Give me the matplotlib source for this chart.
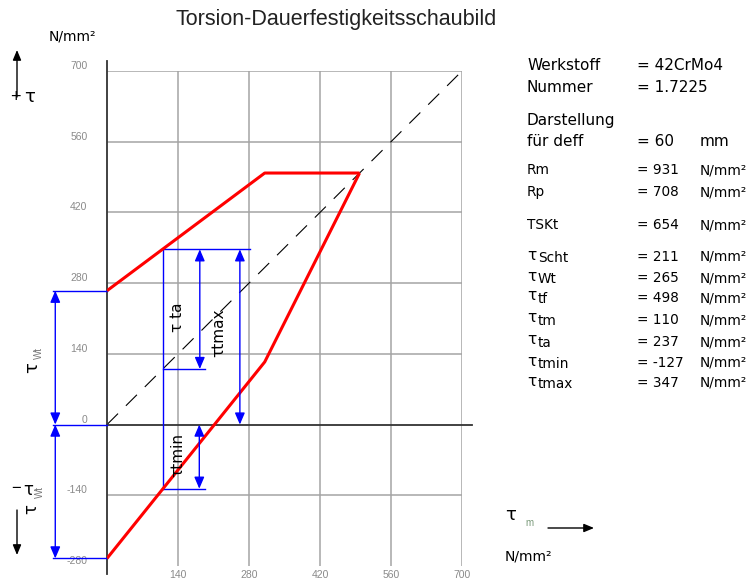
import matplotlib
matplotlib.use('Agg')
import matplotlib.pyplot as plt
from matplotlib.transforms import ScaledTranslation

plt.rcParams['font.family'] = ['Liberation Sans', 'DejaVu Sans']

# ---------------- data ----------------
x_ticks = [140, 280, 420, 560, 700]
y_ticks = [-280, -140, 0, 140, 280, 420, 560, 700]
grid_y = [-140, 140, 280, 420, 560, 700]

upper_x = [0, 311, 498]
upper_y = [265, 498, 498]
lower_x = [0, 311, 498]
lower_y = [-265, 124, 498]

tau_wt = 265
tau_tm = 110
tau_ta = 237
tau_tmin = -127
tau_tmax = 347

info_labels = ["Werkstoff", "Nummer"]
info_values = ["= 42CrMo4", "= 1.7225"]
deff_value = "= 60"
mat_labels = ["Rm", "Rp", "TSKt"]
mat_values = ["= 931", "= 708", "= 654"]
tau_subs = ["Scht", "Wt", "tf", "tm", "ta", "tmin", "tmax"]
tau_values = ["= 211", "= 265", "= 498", "= 110", "= 237", "= -127", "= 347"]
unit = "N/mm²"

# ---------------- figure ----------------
W, H = 754, 580
fig = plt.figure(figsize=(W / 100, H / 100), dpi=100)


def P(x, y):
    return x / W, 1 - y / H


ax = fig.add_axes([107 / W, (H - 566) / H, 355 / W, 495 / H])
ax.set_xlim(0, 700)
ax.set_ylim(-280, 700)
for s in ax.spines.values():
    s.set_visible(False)

grey = '#a4a4a4'
ax.vlines(x_ticks, -280, 700, colors=grey, lw=1.1, zorder=1)
ax.hlines(grid_y, 0, 700, colors=grey, lw=1.1, zorder=1)

# axes lines
ax.plot([0, 0], [-295, 720], color='#333333', lw=1.3, clip_on=False, zorder=3)
ax.plot([0, 720], [0, 0], color='#333333', lw=1.3, clip_on=False, zorder=3)

# diagonal
ax.plot([0, 700], [0, 700], color='black', lw=0.8, dashes=(14, 10), zorder=2)

# red curves
ax.plot(upper_x, upper_y, color='#ff0000', lw=2.2, zorder=5, solid_capstyle='butt')
ax.plot(lower_x, lower_y, color='#ff0000', lw=2.2, zorder=5, solid_capstyle='butt')

blue = '#0000ff'
# construction lines
ax.plot([tau_tm, tau_tm], [tau_tmin, tau_tmax], color=blue, lw=1.0, zorder=4)
ax.plot([tau_tm, 282], [tau_tmax, tau_tmax], color=blue, lw=1.0, zorder=4)
ax.plot([tau_tm, 193], [tau_tm, tau_tm], color=blue, lw=1.0, zorder=4)
ax.plot([tau_tm, 193], [tau_tmin, tau_tmin], color=blue, lw=1.0, zorder=4)
for yy in (tau_wt, 0, -tau_wt):
    ax.plot([-107, 0], [yy, yy], color=blue, lw=1.0, clip_on=False, zorder=4)

astyle = '<|-|>,head_length=0.7,head_width=0.3'


def darrow(x, y0, y1):
    ax.annotate('', xy=(x, y1), xytext=(x, y0),
                arrowprops=dict(arrowstyle=astyle, color=blue, lw=1.0,
                                mutation_scale=10, shrinkA=0, shrinkB=0),
                annotation_clip=False, zorder=6)


darrow(183, tau_tm, tau_tmax)
darrow(262, 0, tau_tmax)
darrow(182, 0, tau_tmin)
darrow(-102, 0, tau_wt)
darrow(-102, 0, -tau_wt)

# ticks
ax.set_xticks(x_ticks)
ax.set_yticks(y_ticks)
ax.set_xticklabels([str(v) for v in x_ticks])
ax.set_yticklabels([str(v) for v in y_ticks])
ax.tick_params(length=0, labelsize=7.5, labelcolor='#8a8a8a')
ax.tick_params(axis='y', pad=14)
ax.tick_params(axis='x', pad=3)
for lab in ax.get_yticklabels():
    lab.set_transform(lab.get_transform() + ScaledTranslation(0, 6 / 100, fig.dpi_scale_trans))

# rotated labels in plot
ax_kw = dict(rotation=90, ha='center', va='center', fontsize=11, color='black',
             family=['DejaVu Sans'])
fig.text(*P(178, 317), 'τ ta', **ax_kw)
fig.text(*P(219, 333), 'τtmax', **ax_kw)
fig.text(*P(178, 455), 'τtmin', **ax_kw)

# title
fig.text(*P(336, 19), 'Torsion-Dauerfestigkeitsschaubild', ha='center', va='center',
         fontsize=15.5, color='#222222')

# unit labels
fig.text(*P(49, 36), unit, ha='left', va='center', fontsize=10, family=['DejaVu Sans'])
fig.text(*P(505, 557), unit, ha='left', va='center', fontsize=10, family=['DejaVu Sans'])

# left tau arrow (up)
ax_arrow = dict(arrowstyle='-|>,head_length=0.6,head_width=0.25', color='black', lw=1.0,
                mutation_scale=10, shrinkA=0, shrinkB=0)
fig.add_artist(matplotlib.patches.FancyArrowPatch(P(17, 97), P(17, 50),
                                                  transform=fig.transFigure, **ax_arrow))
fig.text(*P(15, 98), '+', ha='center', va='center', fontsize=13)
fig.text(*P(30, 97), 'τ', ha='center', va='center', fontsize=13, family=['DejaVu Sans'])

# left tau Wt label
fig.text(*P(32, 368), 'τ', rotation=90, ha='center', va='center', fontsize=13,
         family=['DejaVu Sans'])
fig.text(*P(39, 353), 'Wt', rotation=90, ha='center', va='center', fontsize=7,
         color='#7a7a7a')

# lower -tau Wt
fig.text(*P(16, 489), '−', ha='center', va='center', fontsize=12)
fig.text(*P(28, 490), 'τ', ha='center', va='center', fontsize=12, family=['DejaVu Sans'])
fig.text(*P(31, 509), 'τ', rotation=90, ha='center', va='center', fontsize=12,
         family=['DejaVu Sans'])
fig.text(*P(40, 492), 'Wt', rotation=90, ha='center', va='center', fontsize=7,
         color='#7a7a7a')
fig.add_artist(matplotlib.patches.FancyArrowPatch(P(17, 510), P(17, 555),
                                                  transform=fig.transFigure, **ax_arrow))

# tau m
fig.text(*P(511, 515), 'τ', ha='center', va='center', fontsize=13, family=['DejaVu Sans'])
fig.text(*P(525, 523), 'm', ha='left', va='center', fontsize=7, color='#7a9a7a')
fig.add_artist(matplotlib.patches.FancyArrowPatch(P(548, 528), P(594, 528),
                                                  transform=fig.transFigure, **ax_arrow))

# right info block
rf = ['DejaVu Sans']
xl, xe, xu = 527, 637, 700
big = 11
small = 9.8
for lab, val, yy in zip(info_labels, info_values, [65, 87]):
    fig.text(*P(xl, yy), lab, ha='left', va='center', fontsize=big, family=rf)
    fig.text(*P(xe, yy), val, ha='left', va='center', fontsize=big, family=rf)
fig.text(*P(xl, 120), 'Darstellung', ha='left', va='center', fontsize=big, family=rf)
fig.text(*P(xl, 142), 'für deff', ha='left', va='center', fontsize=big, family=rf)
fig.text(*P(xe, 142), deff_value, ha='left', va='center', fontsize=big, family=rf)
fig.text(*P(xu, 142), 'mm', ha='left', va='center', fontsize=big, family=rf)

for lab, val, yy in zip(mat_labels, mat_values, [170, 192, 225]):
    fig.text(*P(xl, yy), lab, ha='left', va='center', fontsize=small, family=rf)
    fig.text(*P(xe, yy), val, ha='left', va='center', fontsize=small, family=rf)
    fig.text(*P(xu, yy), unit, ha='left', va='center', fontsize=small, family=rf)

for sub, val, yy in zip(tau_subs, tau_values, [257, 278, 298, 320, 342, 363, 383]):
    fig.text(*P(xl + 5, yy - 2), 'τ', ha='center', va='center', fontsize=11, family=rf)
    fig.text(*P(xl + 11, yy + 1), sub, ha='left', va='center', fontsize=small, family=rf)
    fig.text(*P(xe, yy), val, ha='left', va='center', fontsize=small, family=rf)
    fig.text(*P(xu, yy), unit, ha='left', va='center', fontsize=small, family=rf)

fig.savefig('out.png', dpi=100)
